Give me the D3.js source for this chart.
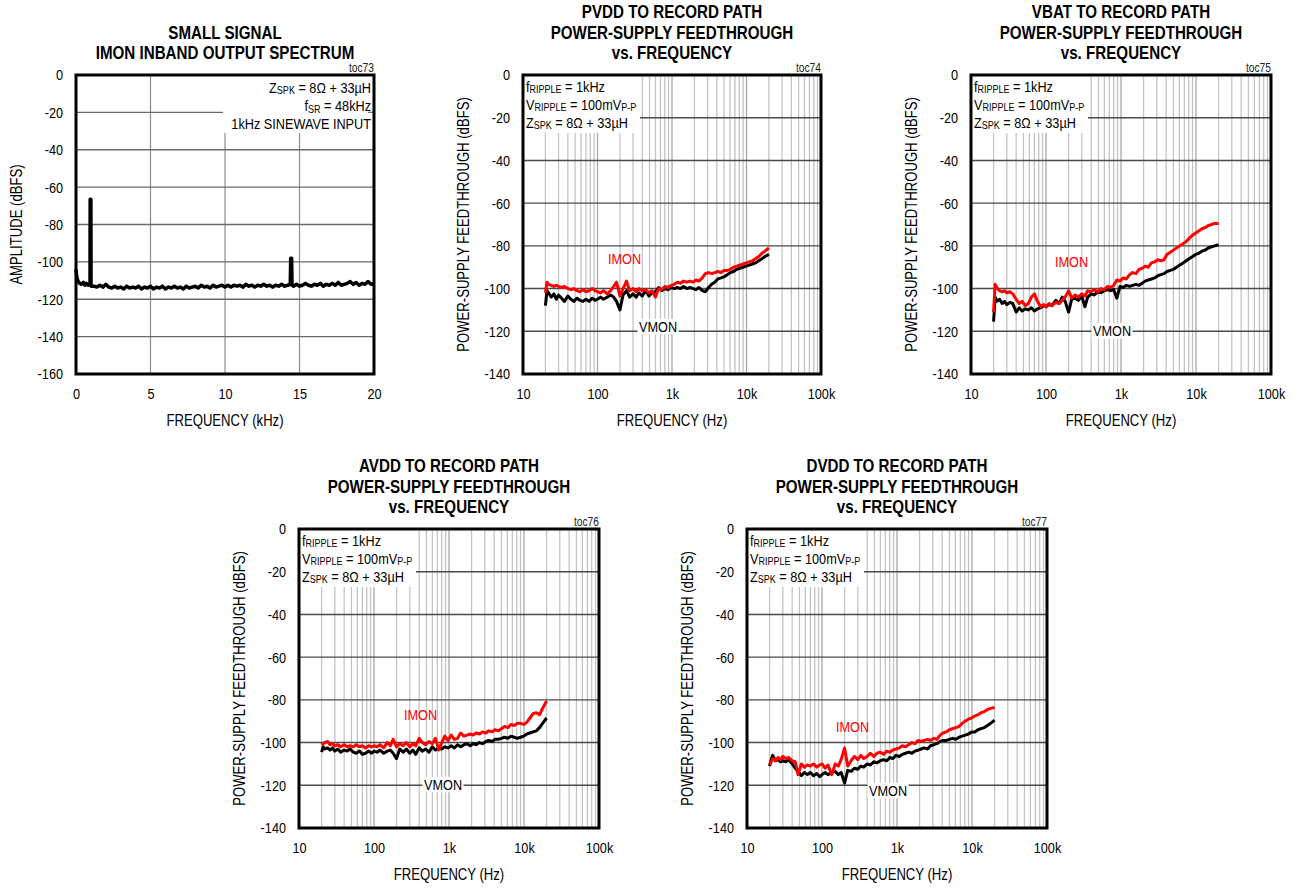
<!DOCTYPE html>
<html><head><meta charset="utf-8">
<script src="https://cdn.jsdelivr.net/npm/d3@7/dist/d3.min.js"></script>
<style>
body{margin:0;background:#fff;}
svg text{font-family:"Liberation Sans",Arial,sans-serif;}
</style></head><body>
<svg id="c" width="1295" height="888"></svg>
<script>
// ---------- DATA ----------
const spectrumFreqKHz = [0,0.04,0.08,0.15,0.25,0.35,0.5,0.6,0.7,0.8,0.9,0.94,0.95,1.0,1.01,1.1,
1.2,1.4,1.6,1.8,2.0,2.2,2.4,2.6,2.8,3.0,3.2,3.4,3.6,3.8,4.0,4.2,4.4,4.6,4.8,5.0,5.2,5.4,5.6,5.8,6.0,6.2,6.4,6.6,6.8,7.0,7.2,7.4,7.6,7.8,8.0,8.2,8.4,8.6,8.8,9.0,9.2,9.4,9.6,9.8,10.0,10.2,10.4,10.6,10.8,11.0,11.2,11.4,11.6,11.8,12.0,12.2,12.4,12.6,12.8,13.0,13.2,13.4,13.6,13.8,14.0,14.2,
14.38,14.41,14.47,14.5,
14.6,14.8,15.0,15.2,15.4,15.6,15.8,16.0,16.2,16.4,16.6,16.8,17.0,17.2,17.4,17.6,17.8,18.0,18.2,18.4,18.6,18.8,19.0,19.2,19.4,19.6,19.8,20.0];
const spectrumDBFS = [-104,-107,-109,-110.5,-111.5,-112,-111,-112.5,-111.5,-112.5,-112,-112,-66.5,-66.5,-113,-113,
-113,-113.5,-112.5,-113.5,-112,-113.5,-114,-113,-114,-113.5,
-114.5,-113,-114,-113.5,-114,-113,-114.5,-113.5,-114,-113,
-114.5,-113.5,-114,-113,-114.5,-113.5,-114,-113,-114,-113.5,
-114.5,-113,-114,-113.5,-113,-114,-112.5,-113.5,-113,-114,
-112.5,-113.5,-113,-112.5,-113.5,-112.5,-113.5,-112.5,-113,-112.5,
-113.5,-112,-113,-112.5,-113.5,-112.5,-113,-112,-113,-112.5,
-113.5,-112.5,-113,-112,-113,-112.5,
-112,-98,-98,-112.5,
-113,-112,-113,-112.5,-111.5,-112.5,-113,-112,-112.5,-111.5,-113,-112,-112.5,-111.5,-112.5,-111,-112.5,-112,-111.5,-110.5,-112,-111,-112.5,-111.5,-112,-110.5,-112,-111.5];

const sweepFreqHz = [20,21,22,24,26,28,30,33,36,40,44,48,53,58,64,70,77,85,93,100,110,120,135,150,165,180,200,220,245,270,300,330,360,400,440,490,540,600,660,730,800,880,970,1070,1180,1300,1430,1580,1740,1920,2100,2300,2550,2800,3100,3400,3750,4100,4550,5000,5500,6100,6700,7400,8100,9000,9900,10900,12000,13200,14600,16100,17700,20000];

const pvddImon = [-102,-97,-98,-98.5,-99,-98.5,-99,-99.5,-99,-100,
 -100.5,-100,-101,-101.5,-100.5,-101.5,-101,-100,-101,-101.5,
 -102,-101,-102.5,-101,-99,-97,-103.5,-100,-96.5,-101,
 -100,-101.5,-100,-101,-100.5,-102,-101,-104,-100,-100.5,
 -99,-99.5,-98.5,-98,-97,-97.5,-96.5,-97,-96.5,-97,
 -96,-96.5,-95,-93,-92.5,-93,-92.5,-92,-92.5,-91.5,
 -91.5,-91,-90,-89.5,-89,-88.5,-88,-87.5,-87,-86,
 -85,-83.5,-82.5,-81];
const pvddVmon = [-108,-101,-102,-104,-102.5,-105,-103,-104.5,-106,-103.5,
 -105,-106,-104.5,-105.5,-106,-105,-106,-104.5,-105.5,-105,
 -104,-105,-104,-103,-104,-106,-110,-103,-101,-104,
 -102.5,-104,-102,-103.5,-101,-103.5,-102,-101.5,-99.5,-101,
 -100,-100.5,-99.5,-100,-99.5,-100,-99,-100,-99.5,-100,
 -100.5,-99.5,-101,-101.5,-99.5,-98,-97,-95.5,-95,-94.5,
 -93.5,-92.5,-92,-91,-90.5,-90,-89.5,-89,-88.5,-88,
 -87,-86,-85,-84];
const vbatImon = [-111,-98,-99.5,-101,-101.5,-101,-102,-101.5,-102.5,-105,
 -107,-106,-108,-107,-104,-102.5,-106,-108.5,-107.5,-108.5,
 -107,-108,-106.5,-107,-105.5,-104,-101,-104.5,-103,-104,
 -102.5,-103.5,-101,-101.5,-100.5,-101.5,-100,-100.5,-99,-99.5,
 -98.5,-96,-96.5,-95,-95.5,-93.5,-92.5,-93,-91,-90.5,
 -89.5,-90,-88,-87.5,-86.5,-87,-86.5,-84,-83,-82,
 -81,-80,-79,-78,-76.5,-75,-74,-73,-72,-71.5,
 -70.5,-70,-69.5,-69.5];
const vbatVmon = [-115.5,-104,-106,-105,-107,-106,-107.5,-106.5,-107,-111,
 -109,-110.5,-109.5,-110,-109,-110.5,-109.5,-109,-108,-108.5,
 -107.5,-108,-105.5,-107,-104,-106,-111,-105,-104.5,-105.5,
 -103.5,-108.5,-104,-102.5,-103,-101.5,-102,-101,-100.5,-101,
 -100.5,-104.5,-99,-99.5,-98.5,-99,-98.5,-98,-98.5,-97.5,
 -96.5,-96,-95.5,-95,-94,-93.5,-93,-92,-91.5,-91,
 -90,-89,-88,-87,-86,-85,-84,-83.5,-82.5,-82,
 -81,-80.5,-80,-79.5];
const avddImon = [-101,-100.5,-100,-99.5,-101,-100.5,-101.5,-101,-102,-101,
 -102,-101.5,-102,-101,-102,-101.5,-102.5,-101.5,-102,-101.5,
 -102,-101,-102.5,-100,-101.5,-98.5,-102,-100.5,-101.5,-100,
 -102,-100.5,-101.5,-98,-100,-101,-99.5,-100.5,-98,-103.5,
 -100,-97,-99,-96.5,-98.5,-98,-95.5,-97,-96.5,-96,
 -96.5,-95.5,-96,-95,-95.5,-94.5,-95,-94,-94.5,-93.5,
 -92.5,-93,-91.5,-92,-91,-91,-91.5,-90.5,-88.5,-86.5,
 -86,-87,-84,-80.5];
const avddVmon = [-104.5,-102,-103,-102.5,-103.5,-102.5,-104,-103,-104.5,-103.5,
 -104,-103,-104.5,-105,-104,-105.5,-105,-104,-105,-104,
 -104.5,-103.5,-105,-104,-103.5,-105,-107.5,-103,-104.5,-103,
 -105,-103.5,-105.5,-102.5,-104,-103,-104.5,-102,-103.5,-102.5,
 -103,-102,-102.5,-101.5,-102.5,-101,-102,-101,-100.5,-101.5,
 -100.5,-101,-100,-100.5,-99.5,-99,-99.5,-98.5,-98.5,-98,
 -97.5,-98,-97,-97.5,-98,-97.5,-97,-96,-95.5,-95,
 -94.5,-93,-91,-88.5];
const dvddImon = [-110.5,-109,-107.5,-108.5,-107,-108,-106.5,-107.5,-107,-108.5,
 -109,-115,-110,-111.5,-110.5,-111,-110,-111.5,-110.5,-110,
 -112,-110.5,-115,-110,-111,-108,-102.5,-111,-108.5,-106.5,
 -108,-106,-107.5,-106.5,-105,-106.5,-105,-104.5,-105.5,-104,
 -104.5,-103.5,-103,-102.5,-101.5,-102,-101,-100,-100.5,-99,
 -99.5,-99,-98.5,-99,-98,-98.5,-96.5,-95.5,-95,-94,
 -93.5,-93,-92.5,-91,-90,-89,-88.5,-87.5,-87,-86,
 -85.5,-84.5,-84,-83.5];
const dvddVmon = [-111,-108,-106,-108.5,-108,-109,-108.5,-109,-108,-110,
 -112,-113.5,-115.5,-114,-115,-114,-115.5,-114.5,-116,-115,
 -114,-115,-114,-113.5,-115,-114,-119,-113,-113.5,-112,
 -112.5,-111,-111.5,-110,-110.5,-109,-109.5,-108.5,-108,-108.5,
 -107,-107.5,-106,-106.5,-105.5,-105,-104.5,-105,-104,-103.5,
 -103,-102.5,-103,-101.5,-101,-100.5,-99.5,-99,-99,-98.5,
 -98,-98.5,-97.5,-97,-96.5,-96,-95,-95,-94,-93.5,
 -93,-92,-91,-89.5];

const linYTicks = [0,-20,-40,-60,-80,-100,-120,-140,-160];
const linXTicks = [0,5,10,15,20];
const logYTicks = [0,-20,-40,-60,-80,-100,-120,-140];
const logXTicks = [10,100,1000,10000,100000];
const logXTickLabels = ["10","100","1k","10k","100k"];
const logMinorMultipliers = [2,3,4,5,6,7,8,9];
const logDecades = [10,100,1000,10000];

// ---------- DRAW ----------
const NARROW = 0.82;
const FS = 15.5, SUB = 11;
const svg = d3.select('#c');
svg.append('rect').attr('width',1295).attr('height',888).attr('fill','#fff');

function rich(g, x, y, parts, anchor){
  const t = g.append('text').attr('x',x).attr('y',y).attr('font-size',FS)
    .attr('text-anchor',anchor||'start').attr('fill','#000');
  let sub=false;
  parts.forEach(p=>{
    const s=p[0], isSub=p[1];
    const ts=t.append('tspan').text(s);
    if(isSub){ ts.attr('font-size',SUB); if(!sub){ts.attr('dy',1.5);} sub=true; }
    else { if(sub){ts.attr('dy',-1.5);} sub=false; }
  });
  return t;
}

function styleAxis(g){
  g.select('.domain').remove();
  g.attr('font-family',null).attr('font-size',null);
  g.selectAll('text').attr('font-size',FS).attr('fill','#000');
}

function frame(p, titles, toc, ylab, xlab){
  const g = svg.append('g');
  const cx = p.left + p.w/2;
  const tb = [-15.5,-36,-56.5];
  titles.slice().reverse().forEach((t,i)=>{
    g.append('text').attr('x',cx).attr('y',p.top+tb[i]).attr('text-anchor','middle')
      .attr('font-size',18.5).attr('font-weight','bold').text(t);
  });
  g.append('text').attr('x',p.left+p.w).attr('y',p.top-3).attr('text-anchor','end')
    .attr('font-size',12.5).attr('fill','#222').text(toc);
  g.append('text').attr('transform',`translate(${p.left-59},${p.top+p.h/2}) rotate(-90)`)
    .attr('text-anchor','middle').attr('dominant-baseline','central').attr('font-size',16).text(ylab);
  g.append('text').attr('x',cx).attr('y',p.top+p.h+52).attr('text-anchor','middle')
    .attr('font-size',16).text(xlab);
  return g;
}

const vmonLabels = [];

// ---- Panel 1: linear spectrum ----
(function(){
  const p={left:76,top:75,w:298,h:299};
  const g = frame(p,["SMALL SIGNAL","IMON INBAND OUTPUT SPECTRUM"],"toc73","AMPLITUDE (dBFS)","FREQUENCY (kHz)");
  const x = d3.scaleLinear().domain([0,20]).range([p.left,p.left+p.w]);
  const y = d3.scaleLinear().domain([0,-160]).range([p.top,p.top+p.h]);
  linXTicks.slice(1,-1).forEach(v=>{
    g.append('line').attr('x1',x(v)).attr('x2',x(v)).attr('y1',p.top).attr('y2',p.top+p.h)
      .attr('stroke','#8c8c8c').attr('stroke-width',1.2);
  });
  linYTicks.slice(1,-1).forEach(v=>{
    g.append('line').attr('x1',p.left).attr('x2',p.left+p.w).attr('y1',y(v)).attr('y2',y(v))
      .attr('stroke','#6a6a6a').attr('stroke-width',1.3);
  });
  g.append('rect').attr('x',223).attr('y',p.top+1).attr('width',p.left+p.w-223-6).attr('height',57).attr('fill','#fff');
  const rx = p.left+p.w-3;
  rich(g,rx,p.top+18,[["Z"],["SPK",1],[" = 8Ω + 33µH"]],'end');
  rich(g,rx,p.top+36.5,[["f"],["SR",1],[" = 48kHz"]],'end');
  rich(g,rx,p.top+54.5,[["1kHz SINEWAVE INPUT"]],'end');
  const line = d3.line().x((d,i)=>x(spectrumFreqKHz[i])).y(d=>y(d));
  g.append('path').datum(spectrumDBFS).attr('d',line).attr('fill','none')
    .attr('stroke','#000').attr('stroke-width',3.5).attr('stroke-linejoin','round');
  const ax = g.append('g').attr('transform',`translate(0,${p.top+p.h})`)
    .call(d3.axisBottom(x).tickValues(linXTicks).tickFormat(d=>String(d)).tickSize(0).tickPadding(14));
  styleAxis(ax);
  const ay = g.append('g').attr('transform',`translate(${p.left},0)`)
    .call(d3.axisLeft(y).tickValues(linYTicks).tickFormat(d=>String(d)).tickSize(0).tickPadding(13));
  styleAxis(ay);
  g.append('rect').attr('x',p.left).attr('y',p.top).attr('width',p.w).attr('height',p.h)
    .attr('fill','none').attr('stroke','#000').attr('stroke-width',3);
})();

// ---- Log panels ----
const logPanels = [
  {p:{left:523,top:75,w:298,h:299}, title:"PVDD TO RECORD PATH", toc:"toc74", imon:pvddImon, vmon:pvddVmon, il:[608,264], vl:[639,332]},
  {p:{left:971,top:75,w:300,h:299}, title:"VBAT TO RECORD PATH", toc:"toc75", imon:vbatImon, vmon:vbatVmon, il:[1055,267], vl:[1093,336.5]},
  {p:{left:299,top:529,w:300,h:299}, title:"AVDD TO RECORD PATH", toc:"toc76", imon:avddImon, vmon:avddVmon, il:[404,720.5], vl:[424,790]},
  {p:{left:747,top:529,w:300,h:299}, title:"DVDD TO RECORD PATH", toc:"toc77", imon:dvddImon, vmon:dvddVmon, il:[836,732], vl:[869,796]}
];

logPanels.forEach(cfg=>{
  const p=cfg.p;
  const g = frame(p,[cfg.title,"POWER-SUPPLY FEEDTHROUGH","vs. FREQUENCY"],cfg.toc,"POWER-SUPPLY FEEDTHROUGH (dBFS)","FREQUENCY (Hz)");
  const x = d3.scaleLog().domain([10,100000]).range([p.left,p.left+p.w]);
  const y = d3.scaleLinear().domain([0,-140]).range([p.top,p.top+p.h]);
  logDecades.forEach(dec=>{
    logMinorMultipliers.forEach(m=>{
      const v=dec*m;
      g.append('line').attr('x1',x(v)).attr('x2',x(v)).attr('y1',p.top).attr('y2',p.top+p.h)
        .attr('stroke','#c4c4c4').attr('stroke-width',1.3);
    });
    if(dec>10){
      g.append('line').attr('x1',x(dec)).attr('x2',x(dec)).attr('y1',p.top).attr('y2',p.top+p.h)
        .attr('stroke','#a8a8a8').attr('stroke-width',1.3);
    }
  });
  logYTicks.slice(1,-1).forEach(v=>{
    g.append('line').attr('x1',p.left).attr('x2',p.left+p.w).attr('y1',y(v)).attr('y2',y(v))
      .attr('stroke','#4a4a4a').attr('stroke-width',1.4);
  });
  g.append('rect').attr('x',p.left+1).attr('y',p.top+1).attr('width',116).attr('height',57).attr('fill','#fff');
  const ax0 = p.left+3;
  rich(g,ax0,p.top+17,[["f"],["RIPPLE",1],[" = 1kHz"]],'start');
  rich(g,ax0,p.top+35,[["V"],["RIPPLE",1],[" = 100mV"],["P-P",1]],'start');
  rich(g,ax0,p.top+53,[["Z"],["SPK",1],[" = 8Ω + 33µH"]],'start');
  const line = d3.line().x((d,i)=>x(sweepFreqHz[i])).y(d=>y(d));
  g.append('path').datum(cfg.vmon).attr('d',line).attr('fill','none')
    .attr('stroke','#000').attr('stroke-width',3).attr('stroke-linejoin','round');
  g.append('path').datum(cfg.imon).attr('d',line).attr('fill','none')
    .attr('stroke','#ff0000').attr('stroke-width',3).attr('stroke-linejoin','round');
  g.append('text').attr('x',cfg.il[0]).attr('y',cfg.il[1]).attr('font-size',FS).attr('fill','#ff0000').text('IMON');
  const vt = g.append('text').attr('x',cfg.vl[0]).attr('y',cfg.vl[1]).attr('font-size',FS).attr('fill','#000').text('VMON');
  vmonLabels.push({g, vt, x:cfg.vl[0]});
  const axb = g.append('g').attr('transform',`translate(0,${p.top+p.h})`)
    .call(d3.axisBottom(x).tickValues(logXTicks).tickFormat((d,i)=>logXTickLabels[i]).tickSize(0).tickPadding(14));
  styleAxis(axb);
  const ayl = g.append('g').attr('transform',`translate(${p.left},0)`)
    .call(d3.axisLeft(y).tickValues(logYTicks).tickFormat(d=>String(d)).tickSize(0).tickPadding(13));
  styleAxis(ayl);
  g.append('rect').attr('x',p.left).attr('y',p.top).attr('width',p.w).attr('height',p.h)
    .attr('fill','none').attr('stroke','#000').attr('stroke-width',3);
});

// condensed look: scale every text horizontally around its anchor x
svg.selectAll('text').each(function(){
  const el=d3.select(this);
  const x = +(el.attr('x')||0);
  const tr = el.attr('transform')||'';
  el.attr('transform', `${tr} translate(${x},0) scale(${NARROW},1) translate(${-x},0)`);
});
// white backing under VMON labels
vmonLabels.forEach(o=>{
  const bb=o.vt.node().getBBox();
  const bx = o.x + (bb.x-o.x)*NARROW;
  o.g.insert('rect',function(){return o.vt.node();}).attr('x',bx-1.5).attr('y',bb.y+1)
    .attr('width',bb.width*NARROW+3).attr('height',bb.height-2).attr('fill','#fff');
});
</script>
</body></html>
